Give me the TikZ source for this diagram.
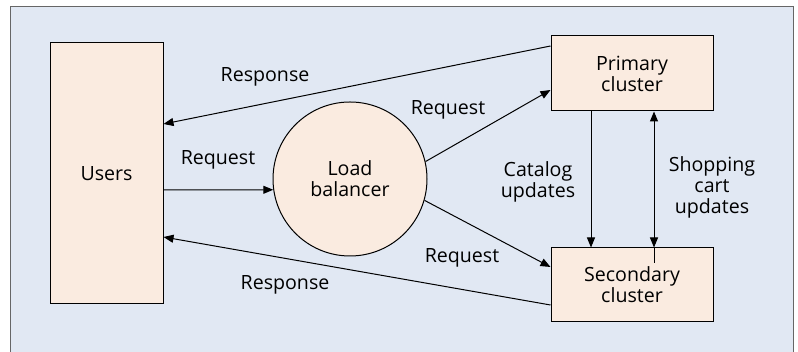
\documentclass[tikz,border=0pt]{standalone}
\usepackage{fontspec}
\setmainfont{Open Sans}
\usepackage{xcolor}
\usetikzlibrary{arrows.meta}

\definecolor{panel}{HTML}{E1E8F3}
\definecolor{boxfill}{HTML}{FAEBE0}

\begin{document}
\begin{tikzpicture}[x=1pt,y=1pt,
  font=\fontsize{19.6}{21}\selectfont,
  line width=1pt,
  blk/.style={draw=black, fill=boxfill, align=center, inner sep=0pt},
  arr/.style={-{Triangle[length=10pt,width=8pt]}},
  lbl/.style={align=center, inner sep=0pt}]

\useasboundingbox (0,0) rectangle (798,352);
\draw[draw=gray!80!black, fill=panel] (10,-5) rectangle (793,345);

\node[blk, minimum width=113, minimum height=261] (users) at (106.5,178.5) {Users};
\node[blk, circle, minimum size=154] (lb) at (350,173) {Load\\balancer};
\node[blk, minimum width=162, minimum height=75] (primary) at (632,278.5) {Primary\\cluster};
\node[blk, minimum width=162, minimum height=74] (secondary) at (632,67) {Secondary\\cluster};

% users to balancer and back
\draw[arr] (users.east |- 0,162) -- (lb.188);
\draw[arr] (primary.west |- 0,306) -- (users.east |- 0,228);
\draw[arr] (secondary.west |- 0,47) -- (users.east |- 0,115);

% balancer to the clusters
\draw[arr] (lb.13) -- (primary.west |- 0,262);
\draw[arr] (lb.-16) -- (secondary.west |- 0,85);

% between the clusters
\draw[arr] (primary.south -| 591,0) -- (secondary.north -| 591,0);
\draw[{Triangle[length=10pt,width=8pt]}-{Triangle[length=10pt,width=8pt]}] (primary.south -| 654,0) -- (secondary.north -| 654,0);
\draw (secondary.north -| 654,0) -- (654,89);

\node[lbl] (resp1) at (265,275) {Response};
\node[lbl] (req1) at (218,192) {Request};
\node[lbl] (resp2) at (285,67) {Response};
\node[lbl] (req2) at (448,242) {Request};
\node[lbl] (req3) at (462,94) {Request};
\node[lbl] (catalog) at (538,170) {Catalog\\updates};
\node[lbl] (cart) at (712,165) {Shopping\\cart\\updates};

\end{tikzpicture}
\end{document}
